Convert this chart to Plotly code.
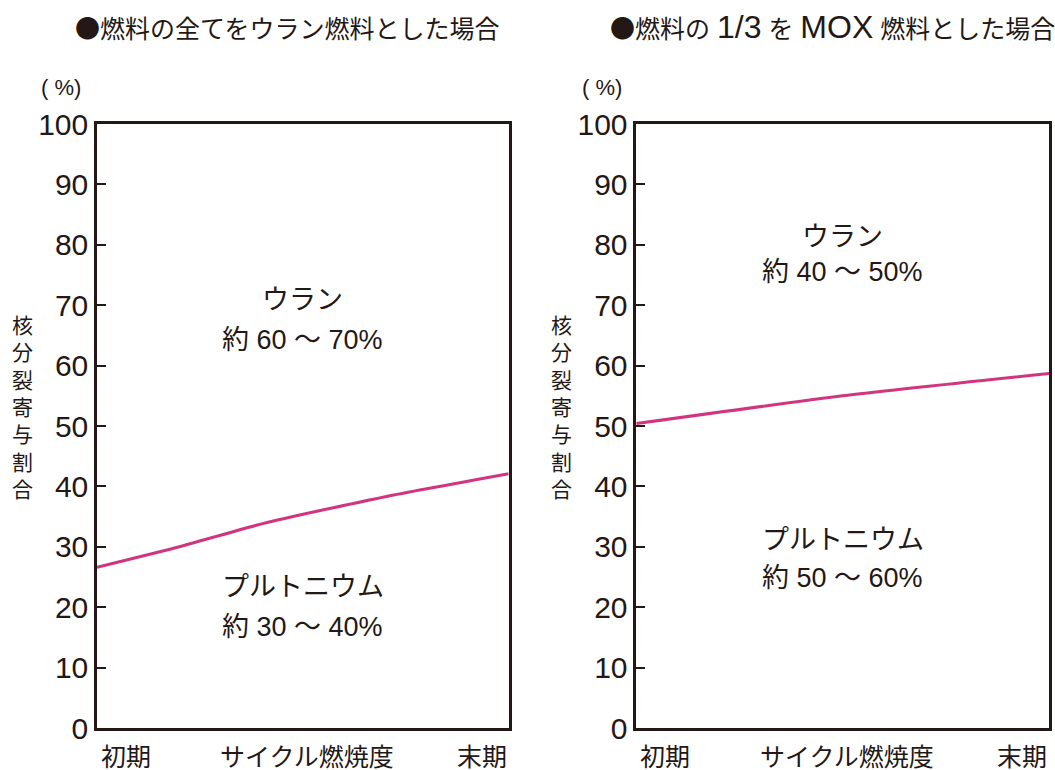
import re
import plotly.graph_objects as go
from plotly.subplots import make_subplots

# ---- data ----
burnup_pos = [0.0, 0.2, 0.4, 0.7, 1.0]
pu_share_uranium_fuel = [26.6, 30.0, 33.8, 38.3, 42.1]
burnup_pos_mox = [0.0, 0.5, 1.0]
pu_share_mox_fuel = [50.4, 55.0, 58.7]

panel_titles = ["●燃料の全てをウラン燃料とした場合", "●燃料の 1/3 を MOX 燃料とした場合"]
x_labels = ["初期", "サイクル燃焼度", "末期"]
y_ticks = [0, 10, 20, 30, 40, 50, 60, 70, 80, 90, 100]
y_title = "核分裂寄与割合"

region_labels_left = [("ウラン", 70.9), ("約 60 ～ 70%", 64.2), ("プルトニウム", 23.3), ("約 30 ～ 40%", 16.7)]
region_labels_right = [("ウラン", 81.3), ("約 40 ～ 50%", 75.5), ("プルトニウム", 31.1), ("約 50 ～ 60%", 24.8)]

FONT = "Liberation Sans, Noto Sans CJK JP, sans-serif"
CJK = "Noto Sans CJK JP"
INK = "#231815"
LINE_COLOR = "#D1357F"

W, H = 1055, 770
ML, MT = 97, 124
MR = W - 1052
MB = H - 728
PW = W - ML - MR
PH = H - MT - MB


def px_x(px):
    return (px - ML) / PW


def px_y(py):
    return 1 - (py - MT) / PH


fig = make_subplots(rows=1, cols=2)
fig.add_trace(go.Scatter(x=burnup_pos, y=pu_share_uranium_fuel, mode="lines",
                         line=dict(color=LINE_COLOR, width=3, shape="spline", smoothing=0.6),
                         showlegend=False, hoverinfo="skip"), row=1, col=1)
fig.add_trace(go.Scatter(x=burnup_pos_mox, y=pu_share_mox_fuel, mode="lines",
                         line=dict(color=LINE_COLOR, width=3, shape="spline", smoothing=0.6),
                         showlegend=False, hoverinfo="skip"), row=1, col=2)

axis_common = dict(showline=True, mirror=True, linecolor=INK, linewidth=2.5, showgrid=False, zeroline=False)
for c in (1, 2):
    fig.update_xaxes(range=[0, 1], showticklabels=False, ticks="", **axis_common, row=1, col=c)
    fig.update_yaxes(range=[0, 100], tickvals=y_ticks, ticks="inside", ticklen=9, tickwidth=2.2,
                     tickcolor=INK, tickfont=dict(size=30, color=INK, family=FONT),
                     **axis_common, row=1, col=c)

fig.update_xaxes(domain=[0, px_x(510)], row=1, col=1)
fig.update_xaxes(domain=[px_x(638), 1], row=1, col=2)


def styled_title(t):
    head = "<span style=\"font-family:'%s'\">%s</span>" % (CJK, t[0])
    rest = re.sub(r"([A-Za-z0-9/]+)", r'<span style="font-size:32px">\1</span>', t[1:])
    return head + rest


ann = []
# titles
ann.append(dict(text=styled_title(panel_titles[0]), xref="paper", yref="paper", x=px_x(73), y=px_y(27),
                xanchor="left", yanchor="middle", showarrow=False,
                font=dict(size=25, color=INK, family=FONT)))
ann.append(dict(text=styled_title(panel_titles[1]), xref="paper", yref="paper", x=px_x(610), y=px_y(27),
                xanchor="left", yanchor="middle", showarrow=False,
                font=dict(size=25, color=INK, family=FONT)))
for xc_pct, xc_title in [(61, 22), (604, 563)]:
    ann.append(dict(text="( %)", xref="paper", yref="paper", x=px_x(xc_pct), y=px_y(88),
                    xanchor="center", yanchor="middle", showarrow=False, font=dict(size=22, color=INK)))
    ann.append(dict(text="<br>".join(list(y_title)), xref="paper", yref="paper", x=px_x(xc_title),
                    y=px_y(407), xanchor="center", yanchor="middle", showarrow=False,
                    font=dict(size=21, color=INK)))
# x labels
for xr in ("x", "x2"):
    ann.append(dict(text=x_labels[0], xref=xr + " domain", yref="paper", x=0.005, y=px_y(757),
                    xanchor="left", yanchor="middle", showarrow=False, font=dict(size=25, color=INK)))
    ann.append(dict(text=x_labels[1], xref=xr + " domain", yref="paper", x=0.51, y=px_y(757),
                    xanchor="center", yanchor="middle", showarrow=False, font=dict(size=25, color=INK)))
    ann.append(dict(text=x_labels[2], xref=xr + " domain", yref="paper", x=1.0, y=px_y(757),
                    xanchor="right", yanchor="middle", showarrow=False, font=dict(size=25, color=INK)))
# region labels
for xr, yr, labels in (("x", "y", region_labels_left), ("x2", "y2", region_labels_right)):
    for txt, yv in labels:
        ann.append(dict(text=txt, xref=xr + " domain", yref=yr, x=0.5, y=yv,
                        xanchor="center", yanchor="middle", showarrow=False,
                        font=dict(size=27, color=INK)))

fig.update_layout(width=W, height=H, margin=dict(l=ML, r=MR, t=MT, b=MB),
                  plot_bgcolor="white", paper_bgcolor="white",
                  font=dict(family=FONT, color=INK), annotations=ann)

fig.write_html("out.html", config={"displayModeBar": False},
               post_script="document.body.style.margin='0';document.body.style.overflow='hidden';")
